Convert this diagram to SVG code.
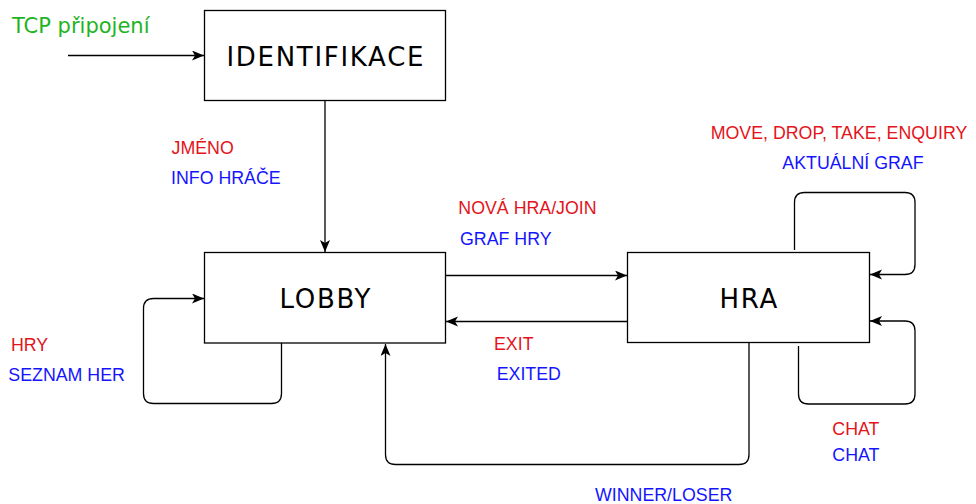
<svg xmlns="http://www.w3.org/2000/svg" width="976" height="504" viewBox="0 0 976 504">
  <style>
    .box { fill: #ffffff; stroke: #000000; stroke-width: 1.3; }
    .title { font-family: "DejaVu Sans", sans-serif; font-size: 26px; letter-spacing: 1.7px; fill: #000000; text-anchor: middle; }
    .edge { fill: none; stroke: #000000; stroke-width: 1.3; marker-end: url(#arrow); }
    .lbl { font-family: "Liberation Sans", Arial, sans-serif; font-size: 17.8px; }
    .req { fill: #e3141b; }
    .resp { fill: #1414ff; }
    .start { font-family: "DejaVu Sans", sans-serif; font-size: 21px; fill: #1fb41f; }
  </style>
  <defs>
    <marker id="arrow" markerUnits="userSpaceOnUse" markerWidth="14" markerHeight="12" refX="12" refY="5" orient="auto">
      <path d="M0,0 L12,5 L0,10 L3,5 Z" fill="#000000"/>
    </marker>
  </defs>

  <rect width="976" height="504" fill="#ffffff"/>

  <!-- connectors -->
  <g id="connectors">
    <path class="edge" d="M68,55.5 H204"/>
    <path class="edge" d="M325,101 V252"/>
    <path class="edge" d="M446,275.5 H627"/>
    <path class="edge" d="M627,321.5 H446"/>
    <path class="edge" d="M281.5,343 V393.5 Q281.5,403.5 271.5,403.5 H153.5 Q143.5,403.5 143.5,393.5 V308.5 Q143.5,298.5 153.5,298.5 H204"/>
    <path class="edge" d="M794.5,250 V202.5 Q794.5,192.5 804.5,192.5 H905 Q915,192.5 915,202.5 V264.5 Q915,274.5 905,274.5 H870"/>
    <path class="edge" d="M798.5,346 V394 Q798.5,404 808.5,404 H905 Q915,404 915,394 V331 Q915,321 905,321 H870"/>
    <path class="edge" d="M749,343 V454.5 Q749,464.5 739,464.5 H395.5 Q385.5,464.5 385.5,454.5 V344"/>
  </g>

  <!-- states -->
  <g id="identifikace">
    <rect class="box" x="204.5" y="10.5" width="241" height="90"/>
    <text class="title" x="325.8" y="65.5">IDENTIFIKACE</text>
  </g>
  <g id="lobby">
    <rect class="box" x="204.5" y="252.5" width="241" height="90.5"/>
    <text class="title" x="325.8" y="307.5">LOBBY</text>
  </g>
  <g id="hra">
    <rect class="box" x="627.5" y="252.5" width="242" height="90"/>
    <text class="title" x="749.3" y="307.5">HRA</text>
  </g>

  <!-- messages -->
  <g id="labels">
    <text class="start" x="12" y="33">TCP připojení</text>
    <text class="lbl req" x="171.5" y="154">JMÉNO</text>
    <text class="lbl resp" x="171" y="184">INFO HRÁČE</text>
    <text class="lbl req" x="458.3" y="213.5">NOVÁ HRA/JOIN</text>
    <text class="lbl resp" x="460" y="245">GRAF HRY</text>
    <text class="lbl req" x="710.7" y="139.3">MOVE, DROP, TAKE, ENQUIRY</text>
    <text class="lbl resp" x="782.3" y="169">AKTUÁLNÍ GRAF</text>
    <text class="lbl req" x="11" y="350.5">HRY</text>
    <text class="lbl resp" x="8.3" y="380.7">SEZNAM HER</text>
    <text class="lbl req" x="494" y="349.5">EXIT</text>
    <text class="lbl resp" x="496.7" y="380">EXITED</text>
    <text class="lbl resp" x="595" y="500.7">WINNER/LOSER</text>
    <text class="lbl req" x="832.3" y="435">CHAT</text>
    <text class="lbl resp" x="832.3" y="460.7">CHAT</text>
  </g>
</svg>
